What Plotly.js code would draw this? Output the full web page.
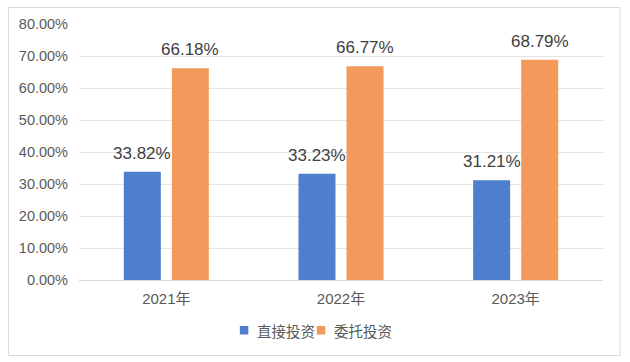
<!DOCTYPE html>
<html><head><meta charset="utf-8">
<script src="https://cdn.plot.ly/plotly-3.0.1.min.js"></script>
<style>html,body{margin:0;padding:0;background:#fff;}#c{width:630px;height:362px;}</style>
</head><body><div id="c"></div>
<script>
const categories = ['2021年', '2022年', '2023年'];
const directInvest = [33.82, 33.23, 31.21];
const entrustInvest = [66.18, 66.77, 68.79];
const seriesNames = ['直接投资', '委托投资'];
const seriesColors = ['#4e7fcf', '#f3995b'];
const yTicks = [0, 10, 20, 30, 40, 50, 60, 70, 80];

const FONT = '"Liberation Sans", Arial, "Noto Sans CJK SC", sans-serif';
const CJK = '"Noto Sans CJK SC", sans-serif';
const fmt = v => v.toFixed(2) + '%';
const seriesValues = [directInvest, entrustInvest];

const traces = seriesValues.map((vals, i) => ({
  type:'bar', name:seriesNames[i], x:categories, y:vals,
  marker:{color:seriesColors[i]}, hoverinfo:'none', showlegend:false
}));

// plot-area geometry (px)
const PL = 79, PR = 603.5, PT = 24, PB = 280;
const PW = PR - PL, PH = PB - PT;
const px2x = x => (x - PL) / PW;
const px2y = y => (PB - y) / PH;

const annotations = [];
seriesValues.forEach((vals, i) => {
  vals.forEach((v, j) => {
    annotations.push({x:categories[j], y:v, xref:'x', yref:'y', text:fmt(v), showarrow:false,
      xanchor:'center', yanchor:'bottom', xshift:(i === 0 ? -24 : 24), yshift:7,
      font:{size:17, color:'#404040', family:FONT}});
  });
});

// legend drawn as shapes + text
const legendSquares = [240, 317];
const legendTexts = [255, 332];
const shapes = [{type:'rect', xref:'paper', yref:'paper',
  x0:px2x(8.5), x1:px2x(620.5), y0:px2y(355.5), y1:px2y(7.5),
  line:{color:'#d9d9d9', width:1}, fillcolor:'rgba(0,0,0,0)', layer:'below'}];
seriesNames.forEach((n, i) => {
  shapes.push({type:'rect', xref:'paper', yref:'paper',
    x0:px2x(legendSquares[i]), x1:px2x(legendSquares[i] + 8.5), y0:px2y(334.5), y1:px2y(326),
    line:{width:0}, fillcolor:seriesColors[i]});
  annotations.push({xref:'paper', yref:'paper', x:px2x(legendTexts[i]), y:px2y(330.5),
    xanchor:'left', yanchor:'middle', text:n, showarrow:false,
    font:{size:14.5, color:'#595959', family:CJK}});
});

const layout = {
  width:630, height:362,
  margin:{l:PL, r:630 - PR, t:PT, b:362 - PB, autoexpand:false},
  paper_bgcolor:'#fff', plot_bgcolor:'#fff',
  font:{family:FONT, color:'#595959'},
  barmode:'group', bargap:0.45, bargroupgap:0.23,
  showlegend:false,
  xaxis:{tickfont:{size:15, color:'#595959', family:FONT}, showline:false, ticks:'', showgrid:false,
         ticklabelstandoff:8, automargin:false},
  yaxis:{range:[0,80], tickvals:yTicks, ticktext:yTicks.map(fmt), showgrid:true, automargin:false,
         gridcolor:'#e3e3e3', gridwidth:1, zeroline:true, zerolinecolor:'#d9d9d9', zerolinewidth:1,
         tickfont:{size:14.5, color:'#595959', family:FONT}, ticklabelstandoff:10, showline:false},
  shapes:shapes,
  annotations:annotations
};

Plotly.newPlot('c', traces, layout, {displayModeBar:false, staticPlot:true});
</script></body></html>
